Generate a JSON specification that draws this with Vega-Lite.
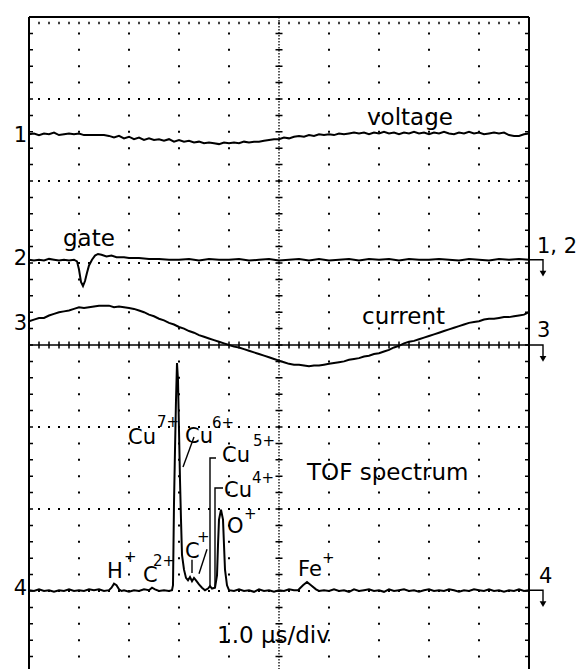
{
"$schema": "https://vega.github.io/schema/vega-lite/v6.json",
"width": 500, "height": 656,
"autosize": {"type": "none"},
"padding": {"left": 29, "top": 17, "right": 51, "bottom": 0},
"background": "white",
"config": {"view": {"stroke": null}, "font": "DejaVu Sans"},
"datasets": {
"grid": [
{"kind":"h","v":-4},{"kind":"h","v":-3},{"kind":"h","v":-2},{"kind":"h","v":-1},{"kind":"h","v":1},{"kind":"h","v":2},{"kind":"h","v":3},
{"kind":"v","t":1},{"kind":"v","t":2},{"kind":"v","t":3},{"kind":"v","t":4},{"kind":"v","t":6},{"kind":"v","t":7},{"kind":"v","t":8},{"kind":"v","t":9},
{"kind":"cv","t":5},{"kind":"ch","v":0},
{"kind":"bv","t":0},{"kind":"bv","t":10},{"kind":"bh","v":4},
{"kind":"tv","t":0.04},{"kind":"tv","t":9.96},{"kind":"th","v":3.927}
],
"voltage": [
{"t":0,"v":2.57},{"t":0.1,"v":2.58},{"t":0.2,"v":2.56},{"t":0.3,"v":2.58},{"t":0.4,"v":2.57},{"t":0.5,"v":2.59},{"t":0.6,"v":2.56},{"t":0.7,"v":2.57},{"t":0.8,"v":2.58},{"t":0.9,"v":2.57},
{"t":1.0,"v":2.58},{"t":1.1,"v":2.56},{"t":1.2,"v":2.56},{"t":1.3,"v":2.56},{"t":1.4,"v":2.56},{"t":1.5,"v":2.56},{"t":1.6,"v":2.55},{"t":1.7,"v":2.53},{"t":1.8,"v":2.55},{"t":1.9,"v":2.52},
{"t":2.0,"v":2.54},{"t":2.1,"v":2.51},{"t":2.2,"v":2.53},{"t":2.3,"v":2.50},{"t":2.4,"v":2.52},{"t":2.5,"v":2.50},{"t":2.6,"v":2.51},{"t":2.7,"v":2.49},{"t":2.8,"v":2.51},{"t":2.9,"v":2.48},
{"t":3.0,"v":2.50},{"t":3.1,"v":2.48},{"t":3.2,"v":2.49},{"t":3.3,"v":2.47},{"t":3.4,"v":2.48},{"t":3.5,"v":2.46},{"t":3.6,"v":2.47},{"t":3.7,"v":2.46},{"t":3.8,"v":2.45},{"t":3.9,"v":2.47},
{"t":4.0,"v":2.46},{"t":4.1,"v":2.47},{"t":4.2,"v":2.46},{"t":4.3,"v":2.48},{"t":4.4,"v":2.47},{"t":4.5,"v":2.48},{"t":4.6,"v":2.48},{"t":4.7,"v":2.49},{"t":4.8,"v":2.50},{"t":4.9,"v":2.51},
{"t":5.0,"v":2.51},{"t":5.1,"v":2.53},{"t":5.2,"v":2.52},{"t":5.3,"v":2.54},{"t":5.4,"v":2.55},{"t":5.5,"v":2.54},{"t":5.6,"v":2.56},{"t":5.7,"v":2.55},{"t":5.8,"v":2.57},{"t":5.9,"v":2.56},
{"t":6.0,"v":2.57},{"t":6.1,"v":2.56},{"t":6.2,"v":2.58},{"t":6.3,"v":2.57},{"t":6.4,"v":2.58},{"t":6.5,"v":2.59},{"t":6.6,"v":2.58},{"t":6.7,"v":2.59},{"t":6.8,"v":2.57},{"t":6.9,"v":2.59},
{"t":7.0,"v":2.58},{"t":7.1,"v":2.60},{"t":7.2,"v":2.58},{"t":7.3,"v":2.59},{"t":7.4,"v":2.57},{"t":7.5,"v":2.59},{"t":7.6,"v":2.58},{"t":7.7,"v":2.60},{"t":7.8,"v":2.58},{"t":7.9,"v":2.59},
{"t":8.0,"v":2.57},{"t":8.1,"v":2.59},{"t":8.2,"v":2.58},{"t":8.3,"v":2.60},{"t":8.4,"v":2.58},{"t":8.5,"v":2.57},{"t":8.6,"v":2.59},{"t":8.7,"v":2.58},{"t":8.8,"v":2.60},{"t":8.9,"v":2.58},
{"t":9.0,"v":2.59},{"t":9.1,"v":2.57},{"t":9.2,"v":2.58},{"t":9.3,"v":2.59},{"t":9.4,"v":2.58},{"t":9.5,"v":2.59},{"t":9.6,"v":2.56},{"t":9.7,"v":2.55},{"t":9.8,"v":2.55},{"t":9.9,"v":2.57},{"t":10.0,"v":2.58}
],
"gate": [
{"t":0,"v":1.04},{"t":0.1,"v":1.03},{"t":0.2,"v":1.04},{"t":0.3,"v":1.03},{"t":0.4,"v":1.05},{"t":0.5,"v":1.04},{"t":0.6,"v":1.03},{"t":0.7,"v":1.04},{"t":0.8,"v":1.03},{"t":0.9,"v":1.04},
{"t":0.96,"v":1.02},{"t":1.0,"v":0.92},{"t":1.04,"v":0.77},{"t":1.08,"v":0.72},{"t":1.12,"v":0.78},{"t":1.16,"v":0.88},{"t":1.2,"v":0.97},{"t":1.26,"v":1.04},{"t":1.32,"v":1.09},{"t":1.38,"v":1.11},
{"t":1.45,"v":1.10},{"t":1.55,"v":1.08},{"t":1.65,"v":1.09},{"t":1.75,"v":1.07},{"t":1.9,"v":1.07},{"t":2.0,"v":1.06},{"t":2.2,"v":1.06},{"t":2.4,"v":1.05},{"t":2.6,"v":1.05},{"t":2.8,"v":1.04},
{"t":3.0,"v":1.04},{"t":3.2,"v":1.05},{"t":3.4,"v":1.03},{"t":3.6,"v":1.05},{"t":3.8,"v":1.04},{"t":4.0,"v":1.04},{"t":4.2,"v":1.05},{"t":4.4,"v":1.03},{"t":4.6,"v":1.04},{"t":4.8,"v":1.05},
{"t":5.0,"v":1.03},{"t":5.2,"v":1.04},{"t":5.4,"v":1.05},{"t":5.6,"v":1.03},{"t":5.8,"v":1.05},{"t":6.0,"v":1.03},{"t":6.2,"v":1.04},{"t":6.4,"v":1.05},{"t":6.6,"v":1.03},{"t":6.8,"v":1.05},
{"t":7.0,"v":1.04},{"t":7.2,"v":1.05},{"t":7.4,"v":1.03},{"t":7.6,"v":1.05},{"t":7.8,"v":1.04},{"t":8.0,"v":1.04},{"t":8.2,"v":1.05},{"t":8.4,"v":1.04},{"t":8.6,"v":1.03},{"t":8.8,"v":1.05},
{"t":9.0,"v":1.04},{"t":9.2,"v":1.03},{"t":9.4,"v":1.05},{"t":9.6,"v":1.04},{"t":9.8,"v":1.05},{"t":10.0,"v":1.04}
],
"current": [
{"t":0,"v":0.29},{"t":0.1,"v":0.31},{"t":0.2,"v":0.33},{"t":0.3,"v":0.33},{"t":0.4,"v":0.36},{"t":0.5,"v":0.38},{"t":0.6,"v":0.40},{"t":0.7,"v":0.41},{"t":0.8,"v":0.42},{"t":0.9,"v":0.44},
{"t":1.0,"v":0.46},{"t":1.1,"v":0.45},{"t":1.2,"v":0.46},{"t":1.3,"v":0.47},{"t":1.4,"v":0.48},{"t":1.5,"v":0.48},{"t":1.6,"v":0.48},{"t":1.7,"v":0.46},{"t":1.8,"v":0.47},{"t":1.9,"v":0.46},
{"t":2.0,"v":0.45},{"t":2.1,"v":0.44},{"t":2.2,"v":0.42},{"t":2.3,"v":0.40},{"t":2.4,"v":0.37},{"t":2.5,"v":0.35},{"t":2.6,"v":0.32},{"t":2.7,"v":0.30},{"t":2.8,"v":0.27},{"t":2.9,"v":0.25},
{"t":3.0,"v":0.22},{"t":3.1,"v":0.20},{"t":3.2,"v":0.17},{"t":3.3,"v":0.15},{"t":3.4,"v":0.12},{"t":3.5,"v":0.10},{"t":3.6,"v":0.08},{"t":3.7,"v":0.06},{"t":3.8,"v":0.04},{"t":3.9,"v":0.02},
{"t":4.0,"v":0.00},{"t":4.1,"v":-0.02},{"t":4.2,"v":-0.03},{"t":4.3,"v":-0.05},{"t":4.4,"v":-0.07},{"t":4.5,"v":-0.09},{"t":4.6,"v":-0.11},{"t":4.7,"v":-0.13},{"t":4.8,"v":-0.15},{"t":4.9,"v":-0.17},
{"t":5.0,"v":-0.19},{"t":5.1,"v":-0.21},{"t":5.2,"v":-0.23},{"t":5.3,"v":-0.24},{"t":5.4,"v":-0.24},{"t":5.5,"v":-0.25},{"t":5.6,"v":-0.26},{"t":5.7,"v":-0.25},{"t":5.8,"v":-0.25},{"t":5.9,"v":-0.24},
{"t":6.0,"v":-0.23},{"t":6.1,"v":-0.22},{"t":6.2,"v":-0.21},{"t":6.3,"v":-0.20},{"t":6.4,"v":-0.18},{"t":6.5,"v":-0.17},{"t":6.6,"v":-0.16},{"t":6.7,"v":-0.14},{"t":6.8,"v":-0.13},{"t":6.9,"v":-0.11},
{"t":7.0,"v":-0.10},{"t":7.1,"v":-0.08},{"t":7.2,"v":-0.06},{"t":7.3,"v":-0.03},{"t":7.4,"v":-0.01},{"t":7.5,"v":0.02},{"t":7.6,"v":0.04},{"t":7.7,"v":0.05},{"t":7.8,"v":0.07},{"t":7.9,"v":0.09},
{"t":8.0,"v":0.11},{"t":8.1,"v":0.13},{"t":8.2,"v":0.15},{"t":8.3,"v":0.17},{"t":8.4,"v":0.19},{"t":8.5,"v":0.21},{"t":8.6,"v":0.23},{"t":8.7,"v":0.25},{"t":8.8,"v":0.27},{"t":8.9,"v":0.28},
{"t":9.0,"v":0.29},{"t":9.1,"v":0.31},{"t":9.2,"v":0.32},{"t":9.3,"v":0.32},{"t":9.4,"v":0.33},{"t":9.5,"v":0.34},{"t":9.6,"v":0.34},{"t":9.7,"v":0.35},{"t":9.8,"v":0.36},{"t":9.9,"v":0.37},{"t":10.0,"v":0.40}
],
"tof": [
{"t":0,"v":-2.99},{"t":0.1,"v":-3.0},{"t":0.2,"v":-2.98},{"t":0.3,"v":-3.0},{"t":0.4,"v":-2.99},{"t":0.5,"v":-3.01},{"t":0.6,"v":-2.99},{"t":0.7,"v":-3.0},{"t":0.8,"v":-2.98},{"t":0.9,"v":-3.0},
{"t":1.0,"v":-2.99},{"t":1.1,"v":-3.0},{"t":1.2,"v":-2.98},{"t":1.3,"v":-2.99},{"t":1.4,"v":-2.98},{"t":1.5,"v":-3.0},{"t":1.6,"v":-2.99},{"t":1.65,"v":-2.96},{"t":1.7,"v":-2.91},{"t":1.75,"v":-2.93},
{"t":1.8,"v":-2.98},{"t":1.85,"v":-3.0},{"t":1.9,"v":-2.99},{"t":2.0,"v":-3.01},{"t":2.1,"v":-2.99},{"t":2.2,"v":-3.0},{"t":2.3,"v":-2.98},{"t":2.4,"v":-2.99},{"t":2.46,"v":-2.96},{"t":2.52,"v":-2.98},
{"t":2.6,"v":-3.0},{"t":2.7,"v":-2.99},{"t":2.8,"v":-3.0},{"t":2.86,"v":-2.99},{"t":2.88,"v":-2.93},{"t":2.9,"v":-1.93},{"t":2.92,"v":-1.28},{"t":2.94,"v":-0.67},{"t":2.96,"v":-0.22},{"t":2.98,"v":-0.43},
{"t":3.0,"v":-1.04},{"t":3.02,"v":-1.65},{"t":3.04,"v":-2.13},{"t":3.06,"v":-2.56},{"t":3.1,"v":-2.74},{"t":3.14,"v":-2.84},{"t":3.18,"v":-2.87},{"t":3.22,"v":-2.83},{"t":3.26,"v":-2.88},{"t":3.3,"v":-2.84},
{"t":3.34,"v":-2.87},{"t":3.4,"v":-2.92},{"t":3.46,"v":-2.96},{"t":3.52,"v":-2.99},{"t":3.58,"v":-2.97},{"t":3.62,"v":-2.94},{"t":3.66,"v":-2.97},{"t":3.72,"v":-2.96},{"t":3.76,"v":-2.81},{"t":3.78,"v":-2.44},
{"t":3.8,"v":-2.13},{"t":3.84,"v":-2.01},{"t":3.88,"v":-2.13},{"t":3.9,"v":-2.44},{"t":3.92,"v":-2.74},{"t":3.96,"v":-2.93},{"t":4.0,"v":-2.99},{"t":4.1,"v":-3.0},{"t":4.2,"v":-2.98},{"t":4.3,"v":-3.0},
{"t":4.4,"v":-2.99},{"t":4.5,"v":-3.01},{"t":4.6,"v":-2.98},{"t":4.7,"v":-3.0},{"t":4.8,"v":-2.99},{"t":4.9,"v":-3.01},{"t":5.0,"v":-2.99},{"t":5.1,"v":-3.0},{"t":5.2,"v":-2.98},{"t":5.3,"v":-2.99},
{"t":5.38,"v":-2.99},{"t":5.48,"v":-2.93},{"t":5.56,"v":-2.89},{"t":5.64,"v":-2.93},{"t":5.74,"v":-2.98},{"t":5.8,"v":-3.0},{"t":5.9,"v":-2.99},{"t":6.0,"v":-3.0},{"t":6.1,"v":-2.98},{"t":6.2,"v":-3.0},
{"t":6.3,"v":-2.99},{"t":6.4,"v":-3.01},{"t":6.5,"v":-2.98},{"t":6.6,"v":-3.0},{"t":6.7,"v":-2.99},{"t":6.8,"v":-2.98},{"t":6.9,"v":-3.0},{"t":7.0,"v":-2.99},{"t":7.1,"v":-3.01},{"t":7.2,"v":-2.98},
{"t":7.3,"v":-3.0},{"t":7.4,"v":-2.99},{"t":7.5,"v":-2.98},{"t":7.6,"v":-3.0},{"t":7.7,"v":-2.99},{"t":7.8,"v":-3.01},{"t":7.9,"v":-2.99},{"t":8.0,"v":-2.98},{"t":8.1,"v":-3.0},{"t":8.2,"v":-2.99},
{"t":8.3,"v":-3.0},{"t":8.4,"v":-2.98},{"t":8.5,"v":-2.99},{"t":8.6,"v":-3.01},{"t":8.7,"v":-2.99},{"t":8.8,"v":-3.0},{"t":8.9,"v":-2.98},{"t":9.0,"v":-2.99},{"t":9.1,"v":-3.0},{"t":9.2,"v":-2.98},
{"t":9.3,"v":-3.0},{"t":9.4,"v":-2.99},{"t":9.5,"v":-3.01},{"t":9.6,"v":-2.99},{"t":9.7,"v":-3.0},{"t":9.8,"v":-2.98},{"t":9.9,"v":-3.0},{"t":10.0,"v":-2.99}
],
"leaders": [
{"id":"cu6","o":0,"t":3.30,"v":-1.122},{"id":"cu6","o":1,"t":3.08,"v":-1.488},
{"id":"cu5","o":0,"t":3.74,"v":-1.378},{"id":"cu5","o":1,"t":3.62,"v":-1.378},{"id":"cu5","o":2,"t":3.62,"v":-2.94},
{"id":"cu4","o":0,"t":3.88,"v":-1.744},{"id":"cu4","o":1,"t":3.72,"v":-1.744},{"id":"cu4","o":2,"t":3.72,"v":-2.95},
{"id":"c1a","o":0,"t":3.26,"v":-2.62},{"id":"c1a","o":1,"t":3.26,"v":-2.78},
{"id":"c1b","o":0,"t":3.40,"v":-2.79},{"id":"c1b","o":1,"t":3.56,"v":-2.49},
{"id":"m2","o":0,"t":10.0,"v":1.04},{"id":"m2","o":1,"t":10.28,"v":1.04},{"id":"m2","o":2,"t":10.28,"v":0.90},
{"id":"m3","o":0,"t":0,"v":0},{"id":"m3","o":1,"t":10.28,"v":0},{"id":"m3","o":2,"t":10.28,"v":-0.14},
{"id":"m4","o":0,"t":10.0,"v":-2.99},{"id":"m4","o":1,"t":10.28,"v":-2.99},{"id":"m4","o":2,"t":10.28,"v":-3.13}
],
"arrows": [
{"t":10.28,"v":0.87},{"t":10.28,"v":-0.17},{"t":10.28,"v":-3.16}
],
"labels": [
{"role":"name","text":"voltage","t":6.76,"v":2.68},
{"role":"name","text":"gate","t":0.68,"v":1.21},
{"role":"name","text":"current","t":6.66,"v":0.256},
{"role":"name","text":"TOF spectrum","t":5.56,"v":-1.646},
{"role":"name","text":"1.0 μs/div","t":3.76,"v":-3.63},
{"role":"ion","text":"Cu","t":1.98,"v":-1.207},
{"role":"ion","text":"Cu","t":3.12,"v":-1.195},
{"role":"ion","text":"Cu","t":3.86,"v":-1.427},
{"role":"ion","text":"Cu","t":3.90,"v":-1.854},
{"role":"ion","text":"O","t":3.96,"v":-2.293},
{"role":"ion","text":"C","t":3.12,"v":-2.598},
{"role":"ion","text":"C","t":2.28,"v":-2.89},
{"role":"ion","text":"H","t":1.56,"v":-2.841},
{"role":"ion","text":"Fe","t":5.38,"v":-2.817},
{"role":"sup","text":"7+","t":2.56,"v":-1.0},
{"role":"sup","text":"6+","t":3.66,"v":-1.012},
{"role":"sup","text":"5+","t":4.48,"v":-1.232},
{"role":"sup","text":"4+","t":4.46,"v":-1.683},
{"role":"sup","text":"+","t":4.30,"v":-2.12},
{"role":"sup","text":"+","t":3.36,"v":-2.402},
{"role":"sup","text":"2+","t":2.48,"v":-2.695},
{"role":"sup","text":"+","t":1.90,"v":-2.646},
{"role":"sup","text":"+","t":5.86,"v":-2.659},
{"role":"chL","text":"1","t":-0.04,"v":2.48},
{"role":"chL","text":"2","t":-0.04,"v":0.98},
{"role":"chL","text":"3","t":-0.04,"v":0.18},
{"role":"chL","text":"4","t":-0.04,"v":-3.05},
{"role":"chR","text":"1, 2","t":10.16,"v":1.12},
{"role":"chR","text":"3","t":10.16,"v":0.10},
{"role":"chR","text":"4","t":10.2,"v":-2.90}
]
},
"layer": [
{"data":{"name":"grid"},"transform":[{"filter":"datum.kind==='h'"}],
 "mark":{"type":"rule","color":"black","strokeWidth":2,"strokeDash":[2,8],"strokeDashOffset":1},
 "encoding":{"y":{"field":"v","type":"quantitative","scale":{"domain":[-4,4],"nice":false,"zero":false},"axis":null}}},
{"data":{"name":"grid"},"transform":[{"filter":"datum.kind==='v'"}],
 "mark":{"type":"rule","color":"black","strokeWidth":2,"strokeDash":[2,14.4],"strokeDashOffset":1},
 "encoding":{"x":{"field":"t","type":"quantitative","scale":{"domain":[0,10],"nice":false,"zero":false},"axis":null}}},
{"data":{"name":"grid"},"transform":[{"filter":"datum.kind==='cv'"}],
 "mark":{"type":"rule","color":"black","strokeWidth":1.3,"strokeDash":[1.5,1.5]},
 "encoding":{"x":{"field":"t","type":"quantitative","scale":{"domain":[0,10],"nice":false,"zero":false},"axis":null}}},
{"data":{"name":"grid"},"transform":[{"filter":"datum.kind==='cv'"}],
 "mark":{"type":"rule","color":"black","strokeWidth":7,"strokeDash":[1.5,14.9],"strokeDashOffset":0.75},
 "encoding":{"x":{"field":"t","type":"quantitative","scale":{"domain":[0,10],"nice":false,"zero":false},"axis":null}}},
{"data":{"name":"grid"},"transform":[{"filter":"datum.kind==='ch'"}],
 "mark":{"type":"rule","color":"black","strokeWidth":7,"strokeDash":[1.5,8.5],"strokeDashOffset":0.75},
 "encoding":{"y":{"field":"v","type":"quantitative","scale":{"domain":[-4,4],"nice":false,"zero":false},"axis":null}}},
{"data":{"name":"grid"},"transform":[{"filter":"datum.kind==='bv'"}],
 "mark":{"type":"rule","color":"black","strokeWidth":2},
 "encoding":{"x":{"field":"t","type":"quantitative","scale":{"domain":[0,10],"nice":false,"zero":false},"axis":null}}},
{"data":{"name":"grid"},"transform":[{"filter":"datum.kind==='bh'"}],
 "mark":{"type":"rule","color":"black","strokeWidth":2},
 "encoding":{"y":{"field":"v","type":"quantitative","scale":{"domain":[-4,4],"nice":false,"zero":false},"axis":null}}},
{"data":{"name":"grid"},"transform":[{"filter":"datum.kind==='tv'"}],
 "mark":{"type":"rule","color":"black","strokeWidth":4,"strokeDash":[1.5,14.9],"strokeDashOffset":0.75},
 "encoding":{"x":{"field":"t","type":"quantitative","scale":{"domain":[0,10],"nice":false,"zero":false},"axis":null}}},
{"data":{"name":"grid"},"transform":[{"filter":"datum.kind==='th'"}],
 "mark":{"type":"rule","color":"black","strokeWidth":2.5,"strokeDash":[1.5,8.5],"strokeDashOffset":0.75},
 "encoding":{"y":{"field":"v","type":"quantitative","scale":{"domain":[-4,4],"nice":false,"zero":false},"axis":null}}},
{"data":{"name":"voltage"},"mark":{"type":"line","color":"black","strokeWidth":2},
 "encoding":{"x":{"field":"t","type":"quantitative","scale":{"domain":[0,10],"nice":false,"zero":false},"axis":null},"y":{"field":"v","type":"quantitative","scale":{"domain":[-4,4],"nice":false,"zero":false},"axis":null}}},
{"data":{"name":"gate"},"mark":{"type":"line","color":"black","strokeWidth":2},
 "encoding":{"x":{"field":"t","type":"quantitative","scale":{"domain":[0,10],"nice":false,"zero":false},"axis":null},"y":{"field":"v","type":"quantitative","scale":{"domain":[-4,4],"nice":false,"zero":false},"axis":null}}},
{"data":{"name":"current"},"mark":{"type":"line","color":"black","strokeWidth":2},
 "encoding":{"x":{"field":"t","type":"quantitative","scale":{"domain":[0,10],"nice":false,"zero":false},"axis":null},"y":{"field":"v","type":"quantitative","scale":{"domain":[-4,4],"nice":false,"zero":false},"axis":null}}},
{"data":{"name":"tof"},"mark":{"type":"line","color":"black","strokeWidth":2},
 "encoding":{"x":{"field":"t","type":"quantitative","scale":{"domain":[0,10],"nice":false,"zero":false},"axis":null},"y":{"field":"v","type":"quantitative","scale":{"domain":[-4,4],"nice":false,"zero":false},"axis":null}}},
{"data":{"name":"leaders"},"mark":{"type":"line","color":"black","strokeWidth":1.4},
 "encoding":{"x":{"field":"t","type":"quantitative","scale":{"domain":[0,10],"nice":false,"zero":false},"axis":null},"y":{"field":"v","type":"quantitative","scale":{"domain":[-4,4],"nice":false,"zero":false},"axis":null},"detail":{"field":"id"},"order":{"field":"o"}}},
{"data":{"name":"arrows"},"mark":{"type":"point","shape":"triangle-down","filled":true,"color":"black","size":45,"opacity":1},
 "encoding":{"x":{"field":"t","type":"quantitative","scale":{"domain":[0,10],"nice":false,"zero":false},"axis":null},"y":{"field":"v","type":"quantitative","scale":{"domain":[-4,4],"nice":false,"zero":false},"axis":null}}},
{"data":{"name":"labels"},"transform":[{"filter":"datum.role==='name'"}],
 "mark":{"type":"text","color":"black","fontSize":23,"align":"left","baseline":"alphabetic","font":"DejaVu Sans"},
 "encoding":{"x":{"field":"t","type":"quantitative","scale":{"domain":[0,10],"nice":false,"zero":false},"axis":null},"y":{"field":"v","type":"quantitative","scale":{"domain":[-4,4],"nice":false,"zero":false},"axis":null},"text":{"field":"text"}}},
{"data":{"name":"labels"},"transform":[{"filter":"datum.role==='ion'"}],
 "mark":{"type":"text","color":"black","fontSize":21,"align":"left","baseline":"alphabetic","font":"DejaVu Sans"},
 "encoding":{"x":{"field":"t","type":"quantitative","scale":{"domain":[0,10],"nice":false,"zero":false},"axis":null},"y":{"field":"v","type":"quantitative","scale":{"domain":[-4,4],"nice":false,"zero":false},"axis":null},"text":{"field":"text"}}},
{"data":{"name":"labels"},"transform":[{"filter":"datum.role==='sup'"}],
 "mark":{"type":"text","color":"black","fontSize":15,"align":"left","baseline":"alphabetic","font":"DejaVu Sans"},
 "encoding":{"x":{"field":"t","type":"quantitative","scale":{"domain":[0,10],"nice":false,"zero":false},"axis":null},"y":{"field":"v","type":"quantitative","scale":{"domain":[-4,4],"nice":false,"zero":false},"axis":null},"text":{"field":"text"}}},
{"data":{"name":"labels"},"transform":[{"filter":"datum.role==='chL'"}],
 "mark":{"type":"text","color":"black","fontSize":21,"align":"right","baseline":"alphabetic","font":"DejaVu Sans"},
 "encoding":{"x":{"field":"t","type":"quantitative","scale":{"domain":[0,10],"nice":false,"zero":false},"axis":null},"y":{"field":"v","type":"quantitative","scale":{"domain":[-4,4],"nice":false,"zero":false},"axis":null},"text":{"field":"text"}}},
{"data":{"name":"labels"},"transform":[{"filter":"datum.role==='chR'"}],
 "mark":{"type":"text","color":"black","fontSize":21,"align":"left","baseline":"alphabetic","font":"DejaVu Sans"},
 "encoding":{"x":{"field":"t","type":"quantitative","scale":{"domain":[0,10],"nice":false,"zero":false},"axis":null},"y":{"field":"v","type":"quantitative","scale":{"domain":[-4,4],"nice":false,"zero":false},"axis":null},"text":{"field":"text"}}}
]
}
